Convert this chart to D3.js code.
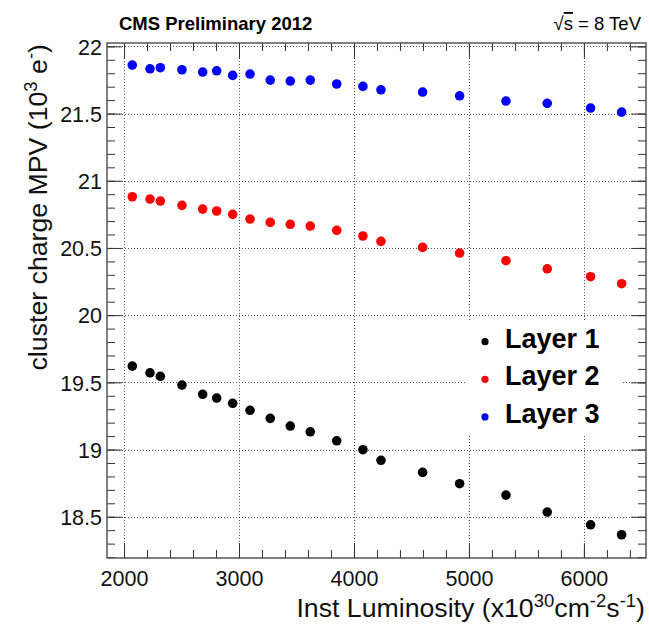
<!DOCTYPE html>
<html>
<head>
<meta charset="utf-8">
<script src="https://cdn.jsdelivr.net/npm/d3@7"></script>
<style>
  body { margin: 0; background: #fff; }
  text { font-family: "Liberation Sans", Arial, Helvetica, sans-serif; }
</style>
</head>
<body>
<svg id="chart" width="649" height="627"></svg>
<script>
// Instantaneous luminosity of each run bin (x10^30 cm^-2 s^-1)
const lumi = [2072, 2226, 2316, 2504, 2684, 2806, 2945, 3096, 3272, 3446,
              3620, 3850, 4078, 4235, 4597, 4919, 5322, 5681, 6058, 6328];

// Cluster charge most probable value per barrel layer (10^3 electrons)
const layer1 = [19.621, 19.571, 19.545, 19.480, 19.411, 19.383, 19.344, 19.292, 19.232, 19.175,
                19.132, 19.065, 18.999, 18.920, 18.830, 18.746, 18.661, 18.535, 18.440, 18.366];
const layer2 = [20.881, 20.864, 20.849, 20.817, 20.789, 20.775, 20.750, 20.715, 20.690, 20.676,
                20.663, 20.631, 20.589, 20.549, 20.504, 20.462, 20.405, 20.345, 20.286, 20.234];
const layer3 = [21.861, 21.833, 21.841, 21.826, 21.809, 21.818, 21.784, 21.794, 21.749, 21.742,
                21.749, 21.720, 21.702, 21.677, 21.660, 21.632, 21.593, 21.576, 21.541, 21.511];

const seriesNames = ["Layer 1", "Layer 2", "Layer 3"];
const seriesColors = ["#000000", "#ff0000", "#0000ff"];

const xTicks = [2000, 3000, 4000, 5000, 6000];
const xMinorTicks = d3.range(2000, 6600, 200);
const yTicks = [18.5, 19, 19.5, 20, 20.5, 21, 21.5, 22];
const yTickLabels = ["18.5", "19", "19.5", "20", "20.5", "21", "21.5", "22"];
const yMinorTicks = d3.range(182, 221, 1).map(v => v / 10);

const svg = d3.select("#chart");
const frameL = 107, frameR = 646, frameT = 43, frameB = 558;

const x = d3.scaleLinear().domain([1852, 6540]).range([frameL, frameR]);
const y = d3.scaleLinear().domain([18.193, 22.025]).range([frameB, frameT]);

svg.append("rect").attr("width", 649).attr("height", 627).attr("fill", "#fff");

// dotted grid at the major ticks
const grid = svg.append("g")
  .attr("stroke", "#555").attr("stroke-width", 1).attr("stroke-dasharray", "1,2");
grid.selectAll("line.gx").data(xTicks).join("line").attr("class", "gx")
  .attr("x1", d => Math.round(x(d)) + 0.5).attr("x2", d => Math.round(x(d)) + 0.5)
  .attr("y1", frameT).attr("y2", frameB);
grid.selectAll("line.gy").data(yTicks).join("line").attr("class", "gy")
  .attr("y1", d => Math.round(y(d)) + 0.5).attr("y2", d => Math.round(y(d)) + 0.5)
  .attr("x1", frameL).attr("x2", frameR);

// legend box blanks out the grid behind it
svg.append("rect")
  .attr("x", 465).attr("y", 321).attr("width", 158).attr("height", 114)
  .attr("fill", "#fff");

// ticks on all four sides, pointing into the frame
function ticks(axis, transform, size, values) {
  const g = svg.append("g").attr("transform", transform)
    .call(axis.tickValues(values).tickSize(size).tickFormat(""));
  g.select(".domain").remove();
  g.selectAll("line").attr("stroke", "#333").attr("stroke-width", 1);
  return g;
}
ticks(d3.axisBottom(x), `translate(0,${frameB})`, -8, xMinorTicks);
ticks(d3.axisBottom(x), `translate(0,${frameB})`, -15, xTicks);
ticks(d3.axisTop(x), `translate(0,${frameT})`, -8, xMinorTicks);
ticks(d3.axisTop(x), `translate(0,${frameT})`, -15, xTicks);
ticks(d3.axisLeft(y), `translate(${frameL},0)`, -8, yMinorTicks);
ticks(d3.axisLeft(y), `translate(${frameL},0)`, -15, yTicks);
ticks(d3.axisRight(y), `translate(${frameR},0)`, -8, yMinorTicks);
ticks(d3.axisRight(y), `translate(${frameR},0)`, -15, yTicks);

// frame
svg.append("rect")
  .attr("x", frameL).attr("y", frameT).attr("width", frameR - frameL).attr("height", frameB - frameT)
  .attr("fill", "none").attr("stroke", "#555").attr("stroke-width", 1.5);

// tick labels
const xLab = svg.append("g")
  .attr("transform", `translate(0,${frameB})`)
  .call(d3.axisBottom(x).tickValues(xTicks).tickSize(0).tickFormat(d3.format("d")));
xLab.select(".domain").remove();
xLab.selectAll("text")
  .attr("y", 28).attr("dy", null)
  .attr("font-size", 21.5).attr("fill", "#111")
  .style("font-family", '"Liberation Sans", Arial, sans-serif');

const yLab = svg.append("g")
  .attr("transform", `translate(${frameL},0)`)
  .call(d3.axisLeft(y).tickValues(yTicks).tickSize(0)
    .tickFormat((d, i) => yTickLabels[i]));
yLab.select(".domain").remove();
yLab.selectAll("text")
  .attr("x", -5).attr("dy", "0.36em")
  .attr("font-size", 21.5).attr("fill", "#111")
  .style("font-family", '"Liberation Sans", Arial, sans-serif');

// data points
const series = [layer1, layer2, layer3];
series.forEach((vals, s) => {
  svg.append("g").selectAll("circle").data(vals).join("circle")
    .attr("cx", (d, i) => x(lumi[i]))
    .attr("cy", d => y(d))
    .attr("r", 4.8)
    .attr("fill", seriesColors[s]);
});

// legend
const leg = svg.append("g");
seriesNames.forEach((name, i) => {
  const cy = 341.7 + i * 37.6;
  leg.append("circle").attr("cx", 485).attr("cy", cy).attr("r", 3.6)
    .attr("fill", seriesColors[i]);
  leg.append("text").attr("x", 505).attr("y", cy + 5.8)
    .attr("font-size", 27).attr("font-weight", "bold").attr("fill", "#000")
    .text(name);
});

// header texts
svg.append("text").attr("x", 119).attr("y", 30)
  .attr("font-size", 18.5).attr("font-weight", "bold").attr("fill", "#000")
  .text("CMS Preliminary 2012");
const energy = svg.append("text").attr("x", 641).attr("y", 30)
  .attr("text-anchor", "end").attr("font-size", 18.5).attr("fill", "#000");
energy.append("tspan").text("\u221A");
energy.append("tspan").attr("text-decoration", "overline").text("s");
energy.append("tspan").text(" = 8 TeV");

// axis titles
const xTitle = svg.append("text").attr("x", 645).attr("y", 617)
  .attr("text-anchor", "end").attr("font-size", 26.7).attr("fill", "#111");
xTitle.append("tspan").text("Inst Luminosity (x10");
xTitle.append("tspan").attr("font-size", 18.5).attr("dy", -10).text("30");
xTitle.append("tspan").attr("dy", 10).text("cm");
xTitle.append("tspan").attr("font-size", 18.5).attr("dy", -10).text("-2");
xTitle.append("tspan").attr("dy", 10).text("s");
xTitle.append("tspan").attr("font-size", 18.5).attr("dy", -10).text("-1");
xTitle.append("tspan").attr("dy", 10).text(")");

const yTitle = svg.append("text")
  .attr("transform", "translate(47,44) rotate(-90)")
  .attr("text-anchor", "end").attr("font-size", 26.7).attr("fill", "#111");
yTitle.append("tspan").text("cluster charge MPV (10");
yTitle.append("tspan").attr("font-size", 18.5).attr("dy", -10).text("3");
yTitle.append("tspan").attr("dy", 10).text(" e");
yTitle.append("tspan").attr("font-size", 18.5).attr("dy", -10).text("-");
yTitle.append("tspan").attr("dy", 10).text(")");
</script>
</body>
</html>
